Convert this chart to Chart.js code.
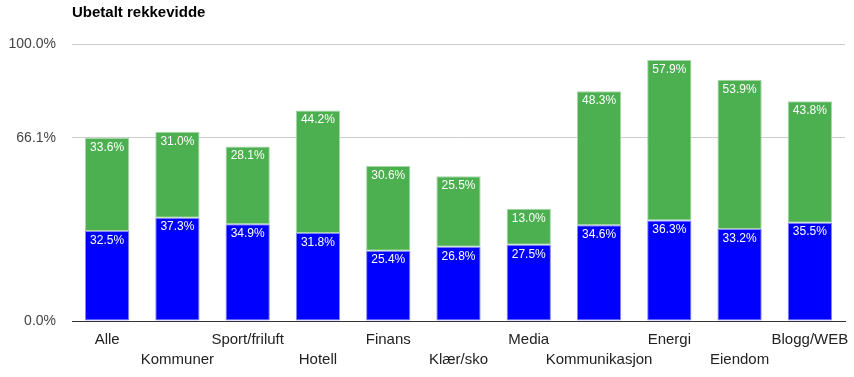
<!DOCTYPE html>
<html>
<head>
<meta charset="utf-8">
<script src="https://cdn.jsdelivr.net/npm/chart.js@4/dist/chart.umd.min.js"></script>
<style>
html,body{margin:0;padding:0;background:#fff;}
#wrap{width:854px;height:377px;}
</style>
</head>
<body>
<div id="wrap"><canvas id="c" width="854" height="377"></canvas></div>
<script>
const titleText = "Ubetalt rekkevidde";
const categories = ["Alle","Kommuner","Sport/friluft","Hotell","Finans","Klær/sko","Media","Kommunikasjon","Energi","Eiendom","Blogg/WEB"];
const paidBlue = [32.5,37.3,34.9,31.8,25.4,26.8,27.5,34.6,36.3,33.2,35.5];
const unpaidGreen = [33.6,31.0,28.1,44.2,30.6,25.5,13.0,48.3,57.9,53.9,43.8];
const yTicks = [0, 66.1, 100];

const xLabels = categories.map((c,i)=> i%2===1 ? ["", c] : c);

const valueLabels = {
  id:'valueLabels',
  afterDatasetsDraw(chart){
    const ctx = chart.ctx;
    ctx.save();
    ctx.font = '12px "Liberation Sans", Arial, sans-serif';
    ctx.fillStyle = '#ffffff';
    ctx.textAlign = 'center';
    ctx.textBaseline = 'middle';
    chart.data.datasets.forEach((ds,di)=>{
      const meta = chart.getDatasetMeta(di);
      meta.data.forEach((el,i)=>{
        ctx.fillText(ds.data[i].toFixed(1)+'%', el.x, el.y + 9.5);
      });
    });
    ctx.restore();
  }
};
const titlePlugin = {
  id:'leftTitle',
  afterDraw(chart){
    const ctx = chart.ctx;
    ctx.save();
    ctx.font = 'bold 15px "Liberation Sans", Arial, sans-serif';
    ctx.fillStyle = '#000';
    ctx.textAlign = 'left';
    ctx.textBaseline = 'middle';
    ctx.fillText(titleText, chart.chartArea.left, 13);
    ctx.restore();
  }
};

new Chart(document.getElementById('c'), {
  type:'bar',
  data:{
    labels: xLabels,
    datasets:[
      {label:'Betalt', data: paidBlue, backgroundColor:'#0000ff', borderColor:'#8585ff', borderWidth:1, borderSkipped:false},
      {label:'Ubetalt', data: unpaidGreen, backgroundColor:'#4caf50', borderColor:'#a6d7a8', borderWidth:1, borderSkipped:false}
    ]
  },
  plugins:[valueLabels, titlePlugin],
  options:{
    responsive:false,
    animation:false,
    events:[],
    layout:{padding:{left:0,right:9,top:44,bottom:0}},
    datasets:{bar:{barPercentage:1, categoryPercentage:0.63}},
    plugins:{legend:{display:false}, tooltip:{enabled:false}, title:{display:false}},
    scales:{
      x:{
        stacked:true,
        grid:{display:false, drawTicks:false},
        border:{display:true, color:'#333333', width:1},
        ticks:{autoSkip:false, maxRotation:0, minRotation:0, padding:9, color:'#222222',
          font:{family:'"Liberation Sans", Arial, sans-serif', size:15, lineHeight:1.33}},
        afterFit(s){ s.height = 56; s.paddingLeft = 0; s.paddingRight = 0; }
      },
      y:{
        stacked:true,
        min:0, max:100,
        afterBuildTicks(s){ s.ticks = yTicks.map(v=>({value:v})); },
        grid:{color:'#cccccc', drawTicks:false},
        border:{display:false},
        ticks:{padding:16, color:'#444444',
          font:{family:'"Liberation Sans", Arial, sans-serif', size:14},
          callback:(v)=> Number(v).toFixed(1)+'%'},
        afterFit(s){ s.width = 72; s.paddingTop = 0; s.paddingBottom = 0; }
      }
    }
  }
});
</script>
</body>
</html>
